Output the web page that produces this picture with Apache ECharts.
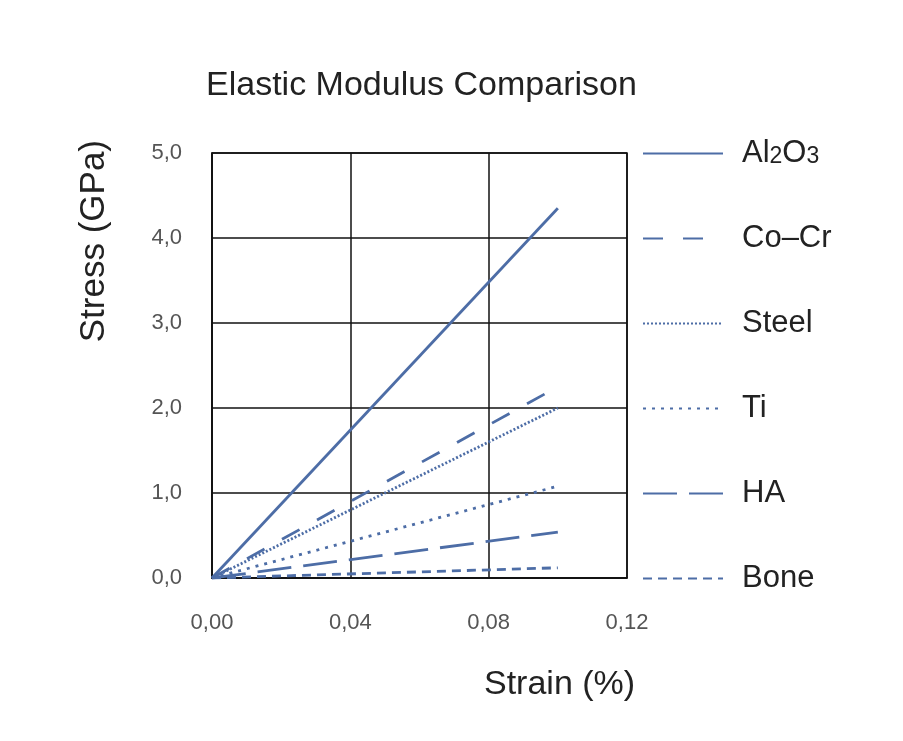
<!DOCTYPE html>
<html>
<head>
<meta charset="utf-8">
<script src="https://cdn.jsdelivr.net/npm/echarts@6/dist/echarts.min.js"></script>
<style>
html,body{margin:0;padding:0;background:#fff;}
#c{width:903px;height:741px;}
</style>
</head>
<body>
<div id="c"></div>
<script>
const materials = ['Al2O3', 'Co–Cr', 'Steel', 'Ti', 'HA', 'Bone'];
const strainEnd = [0.10, 0.10, 0.10, 0.10, 0.10, 0.10];
const stressEnd = [4.35, 2.25, 2.0, 1.08, 0.54, 0.12];
const xTicks = ['0,00', '0,04', '0,08', '0,12'];
const yTicks = ['0,0', '1,0', '2,0', '3,0', '4,0', '5,0'];

const lineColor = '#4d6da6';
const dashes = [
  'solid',
  [20, 20],
  [2, 2],
  [3, 6],
  [34, 12],
  [9, 6]
];

const series = materials.map((m, i) => ({
  name: m,
  type: 'line',
  data: [[0, 0], [strainEnd[i], stressEnd[i]]],
  showSymbol: false,
  symbol: 'none',
  lineStyle: { color: lineColor, width: 2.8, type: dashes[i], cap: 'butt' },
  itemStyle: { color: lineColor },
  z: 5
}));

const font = '"Liberation Sans", Arial, Helvetica, sans-serif';
const chart = echarts.init(document.getElementById('c'), null, { renderer: 'canvas' });
chart.setOption({
  backgroundColor: '#ffffff',
  animation: false,
  title: {
    text: 'Elastic Modulus Comparison',
    left: 201, top: 64,
    textStyle: { fontFamily: font, fontSize: 34, fontWeight: 'normal', color: '#222' }
  },
  grid: { left: 212, right: 276, top: 153, bottom: 163, show: true, borderColor: '#111', borderWidth: 1.5 },
  xAxis: {
    type: 'value', min: 0, max: 0.12, interval: 0.04,
    axisLine: { show: true, lineStyle: { color: '#111', width: 1.5 } },
    axisTick: { show: false },
    splitLine: { show: true, lineStyle: { color: '#111', width: 1.5 } },
    axisLabel: {
      margin: 34, fontFamily: font, fontSize: 22, color: '#555',
      formatter: v => xTicks[Math.round(v / 0.04)]
    }
  },
  yAxis: {
    type: 'value', min: 0, max: 5, interval: 1,
    axisLine: { show: true, lineStyle: { color: '#111', width: 1.5 } },
    axisTick: { show: false },
    splitLine: { show: true, lineStyle: { color: '#111', width: 1.5 } },
    axisLabel: {
      margin: 30, fontFamily: font, fontSize: 22, color: '#555',
      formatter: v => yTicks[Math.round(v)]
    }
  },
  legend: {
    orient: 'vertical',
    left: 637, top: 133,
    itemWidth: 80, itemHeight: 20, itemGap: 54,
    data: materials,
    itemStyle: { opacity: 0 },
    textStyle: {
      fontFamily: font, fontSize: 31, color: '#222', padding: [0, 0, 0, 14],
      rich: {
        a: { fontFamily: font, fontSize: 31, color: '#222' },
        s: { fontFamily: font, fontSize: 23, color: '#222', padding: [6, 0, 0, 0] }
      }
    },
    formatter: name => name === 'Al2O3' ? '{a|Al}{s|2}{a|O}{s|3}' : name
  },
  graphic: [
    {
      type: 'text', left: 77, top: 140, rotation: Math.PI / 2,
      style: { text: 'Stress (GPa)', font: '35px ' + font, fill: '#222' }
    },
    {
      type: 'text', left: 484, top: 668,
      style: { text: 'Strain (%)', font: '34px ' + font, fill: '#222' }
    }
  ],
  series: series
});
</script>
</body>
</html>
